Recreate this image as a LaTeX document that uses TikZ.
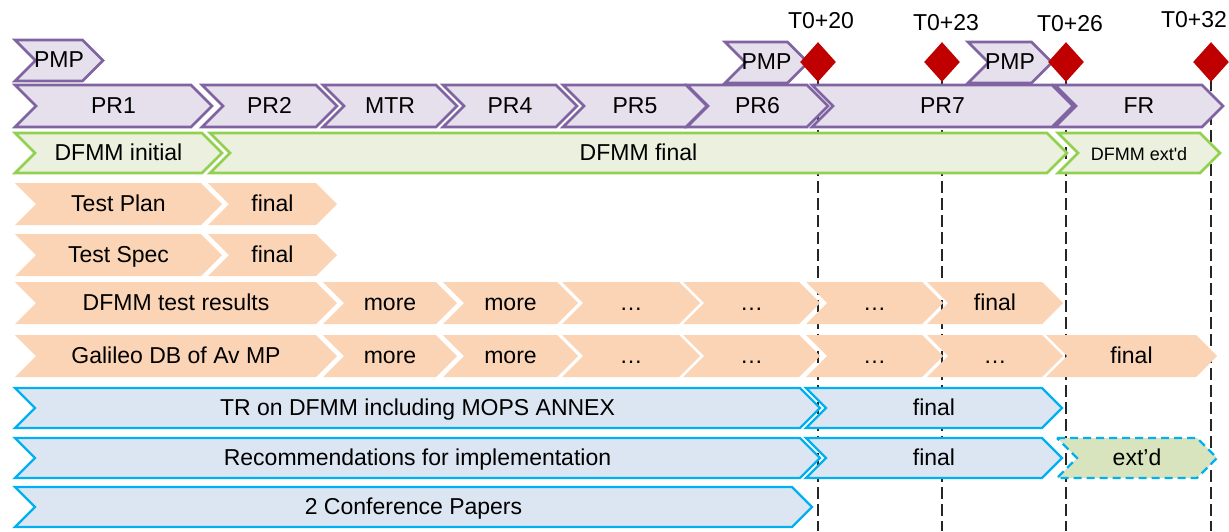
\documentclass[tikz,border=0pt]{standalone}
\usepackage{fontspec}
\setmainfont{Liberation Sans}
\usetikzlibrary{shapes.geometric}

\definecolor{prfill}{HTML}{E5E0EC}
\definecolor{prline}{HTML}{8064A2}
\definecolor{dffill}{HTML}{EBF1DE}
\definecolor{dfline}{HTML}{92D050}
\definecolor{tsfill}{HTML}{FAD4B5}
\definecolor{trfill}{HTML}{DCE6F2}
\definecolor{trline}{HTML}{00B0F0}
\definecolor{extfill}{HTML}{D7E4BD}
\definecolor{msred}{HTML}{C00000}

\tikzset{x=0.5pt, y=-0.5pt}
\tikzset{
  lbl/.style={inner sep=0pt, text=black, text height=0.72em, text depth=0pt},
  prbox/.style={draw=prline, fill=prfill, line width=1.3pt},
  dfbox/.style={draw=dfline, fill=dffill, line width=1.3pt},
  tsbox/.style={fill=tsfill},
  trbox/.style={draw=trline, fill=trfill, line width=1.2pt},
  extbox/.style={draw=trline, fill=extfill, line width=1.2pt, dash pattern=on 4pt off 2.5pt},
  guide/.style={draw=black!85, line width=1pt, dash pattern=on 6pt off 2.5pt},
  milestone/.style={diamond, fill=msred, minimum width=18pt, minimum height=20pt, inner sep=0pt},
}

% chevron: style, name, left x, tip x, top y, bottom y, text
\newcommand{\chev}[7]{%
  \pgfmathsetmacro{\chh}{(#6-#5)/2}
  \path[#1] (#3,#5) -- ({#4-\chh},#5) -- (#4,{#5+\chh}) -- ({#4-\chh},#6)
    -- (#3,#6) -- ({#3+\chh},{#5+\chh}) -- cycle;
  \node[lbl] (#2) at ({(#3+#4)/2},{(#5+#6)/2}) {#7};
}

\begin{document}
\begin{tikzpicture}[font=\fontsize{11.5}{13}\selectfont]
\useasboundingbox (0,0) rectangle (1229,531);
\coordinate (bot) at (0,531);

% milestone lines go first so the bars cover them
\foreach \n/\x in {m20/818, m23/942, m26/1066, m32/1211}{
  \coordinate (\n) at (\x,62);
  \draw[guide] (\n) -- (\n |- bot);
}

% project meetings
\chev{prbox}{pmpA}{15}{103}{40}{81}{PMP}
\chev{prbox}{pmpB}{725}{808}{42}{83}{PMP}
\chev{prbox}{pmpC}{968}{1052}{42}{83}{PMP}

% reports
\foreach \n/\l/\r/\t in {pr1/15/212/PR1, pr2/202/337/PR2, mtr/323/457/MTR,
    pr4/443/577/PR4, pr5/563/707/PR5, pr6/687/828/PR6, pr7/812/1073/PR7, fr/1055/1223/FR}{
  \chev{prbox}{\n}{\l}{\r}{85}{127}{\t}
}

% DFMM
\chev{dfbox}{dfI}{15}{222}{133}{173}{DFMM initial}
\chev{dfbox}{dfF}{210}{1067}{133}{173}{DFMM final}
\chev{dfbox}{dfX}{1058}{1220}{133}{173}{\fontsize{9}{10}\selectfont DFMM ext\textquotesingle d}

% test documents
\chev{tsbox}{tpA}{15}{222}{183}{225}{Test Plan}
\chev{tsbox}{tpB}{208}{337}{183}{225}{final}
\chev{tsbox}{tsA}{15}{222}{234}{276}{Test Spec}
\chev{tsbox}{tsB}{208}{337}{234}{276}{final}

\chev{tsbox}{resA}{15}{337}{282}{324}{DFMM test results}
\foreach \n/\l/\r/\t in {resB/323/457/more, resC/443/578/more, resD/562/700/…,
    resE/683/820/…, resF/806/943/…, resG/927/1063/final}{
  \chev{tsbox}{\n}{\l}{\r}{282}{324}{\t}
}

\chev{tsbox}{galA}{15}{337}{335}{377}{Galileo DB of Av MP}
\foreach \n/\l/\r/\t in {galB/323/457/more, galC/443/578/more, galD/562/700/…,
    galE/683/820/…, galF/806/943/…, galG/927/1063/…, galH/1046/1217/final}{
  \chev{tsbox}{\n}{\l}{\r}{335}{377}{\t}
}

% technical reports
\chev{trbox}{trA}{15}{820}{388}{428}{TR on DFMM including MOPS ANNEX}
\chev{trbox}{trB}{806}{1062}{388}{428}{final}
\chev{trbox}{recA}{15}{820}{438}{478}{Recommendations for implementation}
\chev{trbox}{recB}{806}{1062}{438}{478}{final}
\chev{extbox}{recC}{1057}{1217}{438}{478}{ext’d}
\chev{trbox}{conf}{15}{812}{487}{527}{2 Conference Papers}

% milestones on top
\foreach \n/\m in {d20/m20, d23/m23, d26/m26, d32/m32}
  \node[milestone] (\n) at (\m) {};
\node[lbl] (t20) at (821,21) {T0+20};
\node[lbl] (t23) at (946,23) {T0+23};
\node[lbl] (t26) at (1070,24) {T0+26};
\node[lbl] (t32) at (1194,20) {T0+32};
\end{tikzpicture}
\end{document}
